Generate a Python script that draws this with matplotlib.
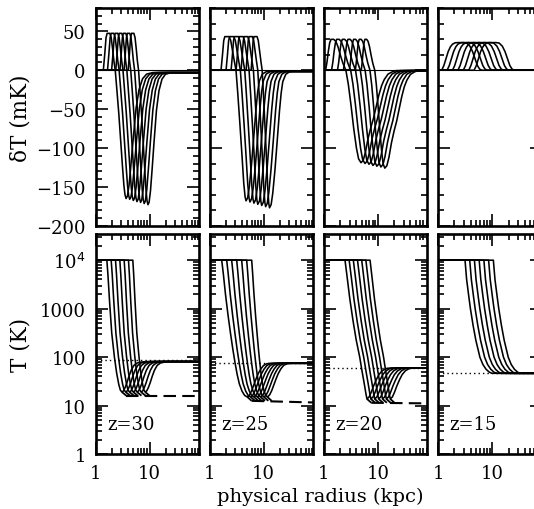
import numpy as np
import matplotlib
matplotlib.use("Agg")
import matplotlib.pyplot as plt
from matplotlib.ticker import FixedLocator, LogLocator, NullFormatter, FixedFormatter, MultipleLocator

plt.rcParams['font.family'] = ['DejaVu Serif']

redshifts = ["z=30", "z=25", "z=20", "z=15"]

# =============== top row: delta T (mK) =================
# innermost-curve template, from ionisation front (0) to dip bottom: (log10 r offset, dT)
dT_in_u = [
    [-3.0, 0.0, 0.025, 0.05, 0.07, 0.12, 0.145, 0.17, 0.195, 0.22, 0.25, 0.285, 0.32, 0.355, 0.38, 0.40, 0.42],
    [-3.0, 0.0, 0.025, 0.05, 0.07, 0.15, 0.18, 0.21, 0.245, 0.277, 0.31, 0.35, 0.39, 0.42, 0.445, 0.463],
    [-3.0, 0.0, 0.025, 0.05, 0.075, 0.10, 0.15, 0.19, 0.23, 0.27, 0.32, 0.375, 0.42, 0.47, 0.52, 0.57, 0.61, 0.655],
    [-3.0, 0.0, 0.04, 0.08, 0.12, 0.16, 0.20, 0.25, 0.30, 0.40, 0.46, 0.52, 0.57, 0.62, 0.66, 0.70, 0.74, 3.0],
]
dT_in_v = [
    [0, 0, 20, 42, 47.4, 47.4, 42, 28, 12, 0, -25, -55, -90, -125, -148, -160, -165],
    [0, 0, 18, 38, 43.2, 43.2, 38, 26, 12, 0, -30, -70, -112, -145, -163, -168],
    [0, 0, 10, 24, 35, 39.7, 39.7, 37, 30, 20, 9, 0, -18, -45, -75, -100, -114, -119],
    [0, 0, 6, 15, 24, 30, 33.5, 35.3, 35.5, 35.5, 35, 31, 24, 14, 6, 1.5, 0, 0],
]
# template from dip bottom (0) back out to the IGM value
dT_out_u = [
    [0.0, 0.025, 0.055, 0.09, 0.13, 0.185, 0.24, 0.305, 0.38, 0.50, 3.0],
    [0.0, 0.03, 0.06, 0.10, 0.14, 0.185, 0.215, 0.245, 0.30, 0.37, 0.43, 3.0],
    [0.0, 0.04, 0.08, 0.13, 0.18, 0.23, 0.28, 0.33, 0.38, 0.43, 0.50, 0.58, 0.65, 3.0],
    [],
]
dT_out_v = [
    [-165, -162, -148, -122, -90, -49, -25, -11, -5, -3, -3],
    [-168, -164, -150, -122, -88, -49, -28, -14, -5, -2, -1.5, -1.5],
    [-119, -116, -106, -88, -74, -62, -47, -32, -20, -12, -5, -2, -0.5, -0.5],
    [],
]
# log10 r of the ionisation front of each of the 7 curves
dT_front = [
    [0.145, 0.222, 0.298, 0.375, 0.452, 0.528, 0.605],
    [0.213, 0.306, 0.399, 0.492, 0.584, 0.677, 0.770],
    [0.035, 0.145, 0.255, 0.365, 0.475, 0.585, 0.695],
    [0.065, 0.165, 0.265, 0.365, 0.465, 0.565, 0.665],
]
# log10 r of the dip bottom of each curve
dT_bottom = [
    [0.565, 0.632, 0.699, 0.766, 0.833, 0.900, 0.970],
    [0.676, 0.748, 0.821, 0.893, 0.965, 1.038, 1.110],
    [0.690, 0.763, 0.837, 0.910, 0.983, 1.057, 1.130],
    [],
]
# dip depth (mK) of each curve
dT_depth = [
    [165, 166, 167.5, 169, 170, 171.5, 173],
    [168, 169.5, 171, 172.5, 174, 175.5, 177],
    [119, 120, 121, 122.5, 123.5, 124.5, 126],
    [],
]
# width factor of the recovery side of each dip
dT_outw = [
    [1.0, 0.97, 0.95, 0.92, 0.90, 0.87, 0.85],
    [1.0, 1.0, 1.0, 1.0, 1.0, 1.0, 1.0],
    [1.0, 1.0, 0.99, 0.98, 0.97, 0.96, 0.95],
    [],
]

# =============== bottom row: T (K) =================
# innermost-curve template from the edge of the 1e4 K zone (0) to the minimum: (offset, log10 T)
T_in_u = [
    [-3.0, 0.0, 0.02, 0.05, 0.09, 0.14, 0.18, 0.22, 0.25, 0.28],
    [-3.0, 0.0, 0.03, 0.07, 0.12, 0.17, 0.21, 0.25, 0.29, 0.33, 0.38, 0.43, 0.48],
    [-3.0, 0.0, 0.04, 0.09, 0.15, 0.21, 0.275, 0.32, 0.36, 0.39, 0.41],
    [-3.0, 0.0, 0.03, 0.07, 0.10, 0.15, 0.20, 0.275, 0.33, 0.39, 0.45, 0.50, 3.0],
]
T_in_logv = [
    [4, 4, 3.7, 3.15, 2.5, 2.0, 1.68, 1.44, 1.32, 1.28],
    [4, 4, 3.72, 3.3, 2.85, 2.45, 2.15, 1.88, 1.64, 1.45, 1.30, 1.21, 1.18],
    [4, 4, 3.65, 3.2, 2.75, 2.35, 2.0, 1.70, 1.45, 1.25, 1.14],
    [4, 4, 3.6, 3.25, 3.0, 2.65, 2.35, 2.0, 1.85, 1.75, 1.69, 1.668, 1.668],
]
# template from the minimum (0) out to the IGM spin temperature
T_out_u = [
    [0.0, 0.03, 0.06, 0.09, 0.13, 0.17, 0.22, 0.28, 0.36, 0.45, 3.0],
    [0.0, 0.04, 0.08, 0.12, 0.16, 0.20, 0.25, 0.30, 0.36, 0.44, 3.0],
    [0.0, 0.04, 0.08, 0.12, 0.17, 0.22, 0.28, 0.35, 0.44, 3.0],
    [],
]
T_out_logv = [
    [1.28, 1.31, 1.38, 1.47, 1.61, 1.73, 1.83, 1.88, 1.90, 1.91, 1.91],
    [1.18, 1.22, 1.31, 1.43, 1.55, 1.66, 1.76, 1.83, 1.865, 1.875, 1.875],
    [1.14, 1.18, 1.28, 1.40, 1.53, 1.64, 1.72, 1.765, 1.778, 1.778],
    [],
]
T_front = [
    [0.21, 0.29, 0.37, 0.45, 0.53, 0.61, 0.69],
    [0.226, 0.318, 0.41, 0.503, 0.595, 0.688, 0.78],
    [0.394, 0.471, 0.548, 0.625, 0.703, 0.78, 0.857],
    [0.496, 0.583, 0.67, 0.758, 0.845, 0.932, 1.02],
]
T_min = [
    [0.49, 0.56, 0.63, 0.70, 0.77, 0.845, 0.92],
    [0.70, 0.762, 0.823, 0.885, 0.947, 1.008, 1.07],
    [0.80, 0.872, 0.943, 1.015, 1.087, 1.158, 1.23],
    [],
]
# gas kinetic temperature outside (dashed): log10 T just outside the minima and at the right edge
Tk_log = [[1.207, 1.207], [1.10, 1.035], [1.06, 1.035], []]
# CMB temperature (dotted), K
T_cmb = [88, 75, 60, 46.5]

xmax = 82.0
W, H = 534, 510
col_left = [95.5, 209.5, 323.7, 438.2]
col_w = 103.5
top_y0, top_y1 = 9.0, 226.7
bot_y0, bot_y1 = 235.0, 455.2

fig = plt.figure(figsize=(W / 100, H / 100), dpi=100)

LW = 1.15
FS = 13
FSL = 15.5


def place(tpl_u, start, end, span):
    tpl_u = np.asarray(tpl_u, dtype=float)
    k = (end - start) / span if span else 1.0
    return start + np.where(tpl_u > 0, tpl_u * k, tpl_u)


def style_x(ax, labels):
    ax.set_xscale('log')
    ax.set_xlim(1, xmax)
    ax.xaxis.set_major_locator(FixedLocator([1, 10, 100]))
    ax.xaxis.set_minor_locator(LogLocator(base=10, subs=np.arange(2, 10)))
    ax.xaxis.set_minor_formatter(NullFormatter())
    if labels:
        ax.xaxis.set_major_formatter(FixedFormatter(["1", "10", "100"]))
    else:
        ax.xaxis.set_major_formatter(NullFormatter())


def common(ax):
    for s in ax.spines.values():
        s.set_linewidth(1.9)
    ax.tick_params(which='both', direction='in', top=True, right=True, width=1.2,
                   labelsize=FS, pad=7)
    ax.tick_params(which='major', length=8.5)
    ax.tick_params(which='minor', length=4.3)


for p in range(4):
    # ---------- top ----------
    x0 = col_left[p] / W
    ax = fig.add_axes([x0, 1 - top_y1 / H, col_w / W, (top_y1 - top_y0) / H])
    ax.axhline(0, color='black', lw=0.8)
    for i in range(7):
        vin = np.array(dT_in_v[p], dtype=float)
        if dT_depth[p]:
            span = dT_in_u[p][-1]
            uin = place(dT_in_u[p], dT_front[p][i], dT_bottom[p][i], span)
            f = dT_depth[p][i] / dT_depth[p][0]
            vin = np.where(vin < 0, vin * f, vin)
            uout = dT_bottom[p][i] + np.array(dT_out_u[p]) * dT_outw[p][i]
            vout = np.array(dT_out_v[p], dtype=float) * f
            u = np.concatenate([uin, uout[1:]])
            v = np.concatenate([vin, vout[1:]])
        else:
            u = dT_front[p][i] + np.array(dT_in_u[p])
            v = vin
        ax.plot(10 ** u, v, color='black', lw=LW, solid_joinstyle='round')
    ax.set_ylim(-200, 80)
    style_x(ax, False)
    if p == 0:
        ax.yaxis.set_minor_locator(MultipleLocator(10))
        ax.set_yticks([-200, -150, -100, -50, 0, 50])
        ax.set_yticklabels(["\u2212200", "\u2212150", "\u2212100", "\u221250", "0", "50"])
        ax.text(-0.72, 0.5, "\u03b4T (mK)", transform=ax.transAxes, rotation=90,
                ha='center', va='center', fontsize=FSL)
    else:
        ax.yaxis.set_major_locator(MultipleLocator(100))
        ax.yaxis.set_minor_locator(MultipleLocator(20))
        ax.yaxis.set_major_formatter(NullFormatter())
    common(ax)

    # ---------- bottom ----------
    axb = fig.add_axes([x0, 1 - bot_y1 / H, col_w / W, (bot_y1 - bot_y0) / H])
    axb.set_yscale('log')
    axb.plot([1, xmax], [T_cmb[p], T_cmb[p]], color='black', lw=1.0, ls=(0, (1, 2.2)))
    for i in range(7):
        vin = np.array(T_in_logv[p])
        if T_min[p]:
            uin = place(T_in_u[p], T_front[p][i], T_min[p][i], T_in_u[p][-1])
            uout = T_min[p][i] + np.array(T_out_u[p])
            vout = np.array(T_out_logv[p])
            u = np.concatenate([uin, uout[1:]])
            v = np.concatenate([vin, vout[1:]])
            # kinetic temperature leaving each minimum (dashed)
            axb.plot(10 ** np.array([uout[0], uout[0] + 0.08]),
                     10 ** np.array([vout[0], Tk_log[p][0]]),
                     color='black', lw=1.3, ls=(0, (4, 2.5)))
        else:
            u = T_front[p][i] + np.array(T_in_u[p])
            v = vin
        axb.plot(10 ** u, 10 ** v, color='black', lw=LW, solid_joinstyle='round')
    if T_min[p]:
        axb.plot(10 ** np.array([T_min[p][0] + 0.08, 3.0]),
                 10 ** np.array([Tk_log[p][0], Tk_log[p][1]]),
                 color='black', lw=1.5, ls=(0, (6, 3)))
    axb.set_ylim(1, 10 ** 4.54)
    style_x(axb, True)
    axb.yaxis.set_major_locator(FixedLocator([1, 10, 100, 1000, 1e4]))
    axb.yaxis.set_minor_locator(LogLocator(base=10, subs=np.arange(2, 10)))
    axb.yaxis.set_minor_formatter(NullFormatter())
    if p == 0:
        axb.yaxis.set_major_formatter(FixedFormatter(["1", "10", "100", "1000", "10$^4$"]))
        axb.text(-0.72, 0.5, "T (K)", transform=axb.transAxes, rotation=90,
                 ha='center', va='center', fontsize=FSL)
    else:
        axb.yaxis.set_major_formatter(NullFormatter())
    common(axb)
    axb.text(0.11, 0.135, redshifts[p], transform=axb.transAxes, ha='left',
             va='center', fontsize=FS)

fig.text(320 / W, 1 - 497 / H, "physical radius (kpc)", ha='center', va='center', fontsize=14)

fig.savefig("out.png", dpi=100)
